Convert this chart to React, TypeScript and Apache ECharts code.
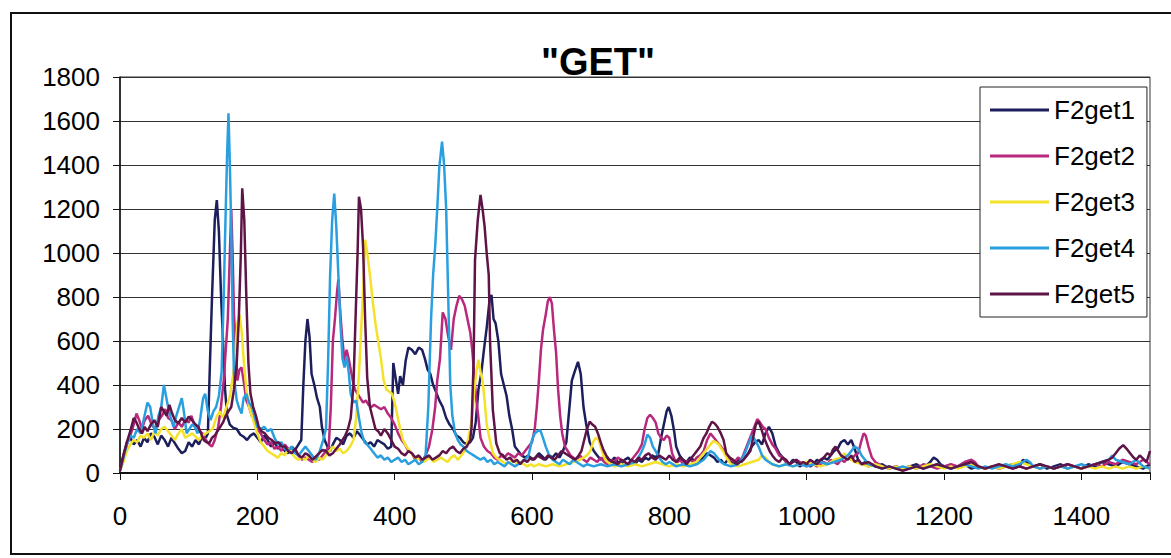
import React, { useEffect, useRef } from "react";
import * as echarts from "echarts";

const TITLE = '"GET"';
const SERIES_NAMES = ["F2get1", "F2get2", "F2get3", "F2get4", "F2get5"];
const SERIES_COLORS = ["#1c1f5c", "#b8287c", "#f4e12a", "#2a9fe0", "#5e1446"];
const X_MIN = 0;
const X_MAX = 1500;
const X_INTERVAL = 200;
const Y_MIN = 0;
const Y_MAX = 1800;
const Y_INTERVAL = 200;

const F2GET1: [number, number][] = [
  [0,20],[5,80],[10,140],[15,160],[20,130],[25,150],[30,120],[35,160],[40,140],[45,180],[50,165],[55,130],[60,170],[65,150],[70,120],[75,160],[80,135],[85,110],[90,90],[95,100],[100,140],[105,120],[110,150],[115,130],[120,170],[125,160],[128,180],[131,500],[134,800],[138,1150],[141,1240],[144,1100],[147,820],[150,600],[153,380],[156,260],[160,220],[165,205],[170,200],[175,175],[180,165],[185,150],[190,170],[195,180],[200,160],[205,140],[210,170],[215,150],[220,120],[225,140],[230,110],[235,130],[240,100],[245,90],[250,120],[255,105],[260,130],[264,150],[267,400],[270,600],[273,700],[276,620],[279,450],[283,400],[287,340],[291,300],[294,210],[298,150],[302,120],[306,100],[310,130],[315,160],[320,150],[325,130],[330,170],[335,180],[340,160],[345,190],[350,170],[355,150],[360,130],[365,140],[370,120],[375,150],[380,140],[385,130],[390,110],[395,120],[398,500],[402,420],[405,360],[408,440],[412,400],[416,510],[420,570],[425,560],[430,540],[435,570],[440,560],[444,520],[448,470],[452,450],[456,400],[460,370],[465,330],[470,300],[475,250],[480,220],[485,200],[490,170],[495,160],[500,140],[505,130],[510,140],[514,160],[518,230],[522,380],[526,450],[530,560],[534,660],[538,780],[541,810],[544,700],[547,680],[551,600],[555,450],[559,400],[563,350],[567,260],[571,200],[575,120],[580,100],[585,80],[590,70],[595,80],[600,60],[605,70],[610,90],[615,75],[620,60],[625,80],[630,70],[635,90],[640,70],[645,100],[650,140],[654,280],[658,420],[662,460],[667,505],[671,450],[675,300],[679,220],[684,140],[690,100],[695,80],[700,60],[705,70],[710,60],[715,50],[720,70],[725,50],[730,40],[735,60],[740,70],[745,50],[750,40],[755,60],[760,50],[765,70],[770,60],[775,80],[780,70],[784,90],[788,160],[792,220],[796,280],[799,300],[803,260],[807,190],[810,120],[815,80],[820,60],[825,50],[830,70],[835,60],[840,40],[845,60],[850,70],[855,90],[860,80],[865,70],[870,50],[875,60],[880,40],[885,60],[890,50],[895,40],[900,60],[905,50],[910,70],[915,90],[920,120],[925,140],[930,150],[935,130],[940,180],[945,210],[950,180],[955,120],[960,90],[965,70],[970,50],[975,40],[980,60],[985,50],[990,30],[995,40],[1000,50],[1005,30],[1010,40],[1015,60],[1020,50],[1025,70],[1030,60],[1035,80],[1040,100],[1045,110],[1050,140],[1055,150],[1060,130],[1065,150],[1070,110],[1075,60],[1080,40],[1085,50],[1090,30],[1095,40],[1100,30],[1110,40],[1120,20],[1130,30],[1140,20],[1150,30],[1160,40],[1170,20],[1180,50],[1185,70],[1190,60],[1195,40],[1200,30],[1210,20],[1220,30],[1230,40],[1240,20],[1250,30],[1260,20],[1270,30],[1280,20],[1290,30],[1300,40],[1310,30],[1315,60],[1320,50],[1330,30],[1340,40],[1350,20],[1360,30],[1370,40],[1380,20],[1390,30],[1400,20],[1410,40],[1420,30],[1430,50],[1440,40],[1450,30],[1460,50],[1470,40],[1480,30],[1490,20],[1500,40]
];

const F2GET2: [number, number][] = [
  [0,10],[5,60],[10,130],[15,170],[20,220],[24,270],[28,240],[32,200],[36,240],[41,260],[46,220],[51,200],[56,240],[61,260],[66,290],[70,250],[75,240],[80,200],[85,230],[90,210],[95,240],[100,230],[104,260],[108,220],[112,200],[116,190],[120,180],[125,150],[130,130],[134,120],[138,150],[143,210],[147,300],[151,420],[154,560],[157,700],[160,1000],[162,1200],[164,1000],[166,720],[168,600],[171,420],[174,470],[177,480],[180,420],[184,330],[188,300],[192,260],[196,240],[200,200],[205,180],[210,150],[215,130],[220,140],[225,110],[230,120],[235,100],[240,130],[245,110],[250,90],[255,100],[260,80],[265,60],[270,70],[275,60],[280,50],[285,70],[290,60],[295,80],[300,100],[304,120],[307,300],[310,600],[313,700],[316,820],[318,880],[321,720],[324,600],[327,510],[330,560],[333,520],[336,470],[339,420],[342,380],[346,360],[350,340],[354,320],[358,330],[362,310],[366,300],[370,310],[375,300],[380,290],[385,300],[390,270],[395,250],[400,220],[405,180],[410,150],[415,130],[420,100],[425,90],[430,60],[435,70],[440,50],[445,80],[450,120],[455,200],[459,300],[462,420],[466,520],[470,730],[474,700],[478,620],[482,560],[486,700],[490,760],[494,805],[498,790],[502,760],[506,700],[510,640],[513,560],[516,440],[519,330],[522,250],[525,160],[530,120],[535,100],[540,90],[545,70],[550,60],[555,80],[560,70],[565,90],[570,80],[575,70],[580,90],[585,80],[590,100],[595,120],[600,140],[604,200],[607,300],[610,420],[613,560],[616,650],[620,720],[623,780],[626,800],[629,770],[632,650],[635,550],[638,380],[641,260],[644,180],[648,120],[652,100],[656,80],[660,70],[665,60],[670,80],[675,60],[680,50],[685,70],[690,60],[695,50],[700,70],[705,50],[710,40],[715,60],[720,50],[725,70],[730,60],[735,50],[740,40],[745,60],[750,80],[755,100],[760,130],[764,200],[768,250],[772,265],[776,250],[780,230],[784,180],[788,160],[792,150],[796,170],[800,160],[804,90],[808,60],[812,50],[816,60],[820,40],[825,50],[830,60],[835,50],[840,70],[845,80],[850,100],[855,150],[860,180],[865,160],[870,140],[875,120],[880,100],[885,80],[890,60],[895,50],[900,70],[905,60],[910,100],[915,140],[920,180],[925,220],[928,245],[932,230],[936,210],[940,200],[945,160],[950,130],[955,110],[960,80],[965,70],[970,50],[975,40],[980,50],[985,60],[990,50],[995,40],[1000,30],[1005,50],[1010,40],[1015,30],[1020,40],[1025,50],[1030,40],[1035,60],[1040,50],[1045,40],[1050,60],[1055,50],[1060,70],[1065,60],[1070,80],[1075,90],[1080,150],[1083,180],[1086,170],[1090,120],[1095,70],[1100,50],[1110,30],[1120,20],[1130,30],[1140,20],[1150,30],[1160,20],[1170,40],[1180,30],[1190,20],[1200,30],[1210,40],[1220,30],[1230,50],[1240,60],[1245,50],[1250,30],[1260,20],[1270,30],[1280,20],[1290,30],[1300,20],[1310,30],[1320,20],[1330,30],[1340,20],[1350,30],[1360,20],[1370,30],[1380,40],[1390,30],[1400,20],[1410,30],[1420,40],[1430,30],[1440,50],[1450,40],[1460,60],[1470,50],[1480,40],[1490,60],[1500,40]
];

const F2GET3: [number, number][] = [
  [0,10],[5,50],[10,100],[15,130],[20,150],[25,140],[30,170],[35,160],[40,180],[45,150],[50,190],[55,170],[60,200],[65,210],[70,190],[75,170],[80,150],[85,180],[90,200],[95,160],[100,170],[105,180],[110,165],[115,150],[120,170],[125,180],[130,190],[135,200],[140,250],[145,280],[150,250],[155,300],[160,350],[165,450],[168,560],[171,680],[174,720],[177,650],[180,520],[184,380],[188,300],[192,260],[196,220],[200,180],[205,140],[210,120],[215,100],[220,90],[225,80],[230,70],[235,90],[240,80],[245,110],[250,90],[255,70],[260,60],[265,70],[270,60],[275,80],[280,60],[285,50],[290,70],[295,60],[300,80],[305,100],[310,120],[315,100],[320,110],[325,90],[330,100],[335,120],[340,150],[344,250],[348,450],[352,700],[355,900],[357,1060],[360,1000],[364,900],[368,780],[372,680],[376,600],[380,520],[384,420],[388,380],[392,370],[396,360],[400,320],[404,260],[408,200],[412,150],[417,120],[422,100],[427,80],[432,60],[437,70],[442,50],[447,60],[452,70],[457,50],[462,60],[467,70],[472,60],[477,50],[482,70],[487,80],[492,60],[497,80],[502,100],[506,140],[510,200],[513,260],[516,380],[519,460],[522,515],[525,460],[528,420],[531,330],[534,220],[538,160],[543,90],[548,70],[553,60],[558,50],[563,40],[568,50],[573,60],[578,40],[583,50],[588,40],[593,30],[598,40],[603,30],[610,40],[620,30],[630,40],[640,30],[650,40],[660,50],[670,60],[680,80],[685,100],[689,140],[693,160],[697,150],[701,110],[705,70],[710,50],[715,40],[720,30],[730,40],[740,30],[750,40],[760,30],[770,40],[780,50],[790,40],[800,30],[810,40],[820,30],[830,40],[840,50],[845,70],[850,90],[855,110],[860,130],[864,145],[868,140],[872,130],[876,110],[880,90],[885,60],[890,40],[900,30],[910,40],[920,50],[930,60],[935,80],[940,70],[945,50],[950,40],[960,30],[970,40],[980,30],[990,40],[1000,50],[1010,40],[1020,30],[1030,40],[1040,60],[1050,70],[1055,90],[1060,70],[1070,50],[1080,40],[1090,30],[1100,40],[1110,30],[1120,20],[1130,30],[1140,20],[1150,30],[1160,20],[1170,30],[1180,40],[1190,30],[1200,20],[1210,30],[1220,20],[1230,30],[1240,40],[1250,30],[1260,20],[1270,30],[1280,20],[1290,30],[1300,40],[1310,50],[1320,40],[1330,30],[1340,20],[1350,30],[1360,20],[1370,30],[1380,20],[1390,30],[1400,20],[1410,30],[1420,20],[1430,30],[1440,20],[1450,30],[1460,20],[1470,30],[1480,20],[1490,30],[1500,20]
];

const F2GET4: [number, number][] = [
  [0,10],[5,70],[10,130],[15,170],[20,160],[25,200],[30,180],[35,250],[40,320],[44,300],[48,220],[52,180],[56,260],[60,300],[64,400],[67,350],[70,300],[74,250],[78,210],[82,260],[86,300],[90,340],[93,280],[97,180],[101,200],[105,220],[109,210],[113,180],[117,250],[121,340],[124,360],[128,280],[132,240],[136,280],[140,300],[144,350],[148,460],[151,800],[154,1200],[156,1450],[158,1635],[160,1400],[162,1100],[164,700],[166,450],[168,380],[170,330],[173,300],[177,270],[180,340],[184,360],[188,320],[192,300],[196,260],[200,210],[205,200],[210,210],[215,190],[220,200],[225,160],[230,130],[235,140],[240,110],[245,100],[250,120],[255,90],[260,80],[265,100],[270,120],[275,100],[280,80],[285,60],[290,90],[295,140],[300,200],[303,500],[306,900],[309,1150],[312,1270],[315,1120],[318,900],[321,680],[324,520],[327,480],[330,530],[333,460],[336,360],[340,320],[344,330],[348,250],[352,180],[356,140],[360,130],[365,110],[370,90],[375,70],[380,80],[385,60],[390,70],[395,50],[400,60],[405,70],[410,50],[415,60],[420,40],[425,50],[430,60],[435,40],[440,50],[445,80],[449,300],[453,700],[456,900],[459,1030],[462,1200],[465,1390],[469,1506],[472,1400],[475,1200],[478,800],[481,400],[484,260],[488,180],[492,150],[496,130],[500,120],[505,100],[510,90],[515,80],[520,70],[525,60],[530,70],[535,50],[540,60],[545,40],[550,50],[555,40],[560,30],[565,50],[570,40],[575,30],[580,40],[585,50],[590,60],[595,80],[600,150],[604,180],[608,190],[612,195],[616,160],[620,120],[625,80],[630,60],[635,50],[640,40],[645,60],[650,50],[655,40],[660,60],[665,50],[670,40],[675,30],[680,40],[690,30],[700,40],[710,30],[720,40],[730,30],[740,40],[750,50],[755,70],[760,100],[764,130],[768,175],[772,160],[776,120],[780,100],[785,70],[790,50],[795,40],[800,50],[810,30],[820,40],[830,30],[840,40],[850,60],[855,80],[860,100],[865,90],[870,70],[875,50],[880,40],[890,30],[900,40],[905,60],[910,90],[915,130],[920,170],[925,150],[930,120],[935,80],[940,60],[945,50],[950,40],[960,30],[970,40],[980,30],[990,40],[1000,30],[1010,40],[1020,50],[1030,40],[1040,50],[1050,60],[1060,80],[1065,100],[1070,120],[1075,110],[1080,80],[1085,60],[1090,40],[1100,30],[1110,20],[1120,30],[1130,20],[1140,30],[1150,20],[1160,30],[1170,20],[1180,30],[1190,40],[1200,30],[1210,20],[1220,30],[1230,40],[1240,30],[1250,20],[1260,30],[1270,20],[1280,30],[1290,40],[1300,30],[1310,40],[1320,60],[1325,50],[1330,30],[1340,20],[1350,30],[1360,20],[1370,30],[1380,20],[1390,30],[1400,40],[1410,30],[1420,40],[1430,50],[1440,60],[1445,80],[1450,60],[1460,50],[1470,40],[1480,60],[1490,30],[1500,20]
];

const F2GET5: [number, number][] = [
  [0,10],[5,80],[10,140],[15,190],[20,250],[24,230],[28,200],[32,180],[36,210],[40,190],[45,220],[50,240],[55,210],[60,300],[64,280],[68,260],[72,310],[76,270],[80,240],[85,226],[90,250],[95,230],[100,256],[105,240],[110,220],[114,210],[118,180],[122,150],[126,140],[130,135],[134,160],[138,170],[142,190],[146,210],[150,230],[154,260],[158,280],[162,300],[166,380],[170,500],[173,700],[176,1000],[178,1294],[181,1150],[184,800],[187,500],[190,360],[194,300],[198,260],[202,210],[206,190],[211,180],[216,160],[221,150],[226,135],[231,140],[236,120],[240,120],[245,100],[250,90],[255,110],[260,80],[265,70],[270,90],[275,80],[280,60],[285,74],[290,90],[295,105],[300,100],[305,80],[310,90],[315,110],[320,130],[324,150],[328,170],[332,200],[336,250],[340,400],[343,700],[346,1000],[348,1256],[351,1200],[354,1029],[357,700],[360,434],[364,300],[368,250],[372,200],[376,190],[380,170],[385,200],[390,180],[395,150],[400,120],[405,110],[410,90],[415,80],[420,100],[425,90],[430,70],[435,80],[440,60],[445,70],[450,80],[455,60],[460,70],[465,80],[470,100],[475,90],[480,110],[485,120],[490,100],[495,90],[500,110],[505,120],[510,150],[512,210],[515,514],[517,968],[521,1150],[525,1264],[528,1200],[531,1120],[534,1000],[537,900],[539,589],[543,286],[548,135],[553,90],[558,80],[563,60],[568,70],[573,50],[578,60],[583,40],[588,60],[593,50],[598,70],[603,60],[608,80],[613,70],[618,60],[623,80],[628,70],[633,60],[638,80],[643,100],[648,90],[653,80],[658,70],[663,60],[668,80],[672,100],[676,150],[680,200],[684,233],[688,220],[692,210],[696,180],[700,140],[704,105],[708,80],[713,59],[718,50],[725,40],[730,60],[735,50],[740,40],[745,60],[750,50],[755,70],[760,60],[765,80],[770,90],[775,70],[780,60],[785,80],[790,70],[795,60],[800,80],[805,60],[810,50],[815,70],[820,60],[825,40],[830,60],[835,80],[840,100],[845,120],[850,160],[854,180],[858,210],[862,233],[866,225],[870,210],[875,180],[879,150],[883,89],[888,70],[893,60],[898,40],[903,50],[908,60],[913,80],[918,100],[922,160],[926,220],[930,235],[934,200],[938,160],[942,130],[946,100],[950,80],[955,60],[960,50],[965,70],[970,60],[975,40],[980,50],[985,60],[990,40],[995,50],[1000,40],[1005,60],[1010,50],[1015,40],[1020,60],[1025,70],[1030,90],[1035,80],[1038,105],[1042,120],[1046,100],[1050,80],[1055,70],[1060,60],[1065,80],[1070,50],[1075,60],[1080,40],[1090,50],[1100,30],[1110,20],[1120,30],[1130,20],[1140,10],[1150,20],[1160,30],[1170,20],[1180,30],[1190,40],[1200,30],[1210,20],[1220,30],[1230,40],[1240,50],[1245,40],[1250,30],[1260,20],[1270,30],[1280,40],[1290,30],[1300,20],[1310,30],[1320,20],[1330,30],[1340,40],[1350,30],[1360,20],[1370,30],[1380,40],[1390,30],[1400,20],[1410,30],[1420,40],[1430,50],[1440,60],[1445,70],[1450,90],[1455,110],[1461,127],[1466,110],[1471,90],[1476,70],[1480,60],[1485,80],[1490,65],[1495,50],[1500,100]
];

const SERIES_DATA = [F2GET1, F2GET2, F2GET3, F2GET4, F2GET5];

const FONT = "'Liberation Sans', Arial, sans-serif";

export default function App() {
  const ref = useRef<HTMLDivElement>(null);

  useEffect(() => {
    if (!ref.current) return;
    const chart = echarts.init(ref.current, null, { renderer: "svg" });
    chart.setOption({
      animation: false,
      backgroundColor: "#ffffff",
      textStyle: { fontFamily: FONT },
      graphic: [
        {
          type: "rect",
          shape: { x: 11, y: 13, width: 1170, height: 541 },
          style: { fill: "none", stroke: "#111", lineWidth: 2 },
          silent: true,
          z: -1,
        },
        {
          type: "text",
          x: 598,
          y: 62,
          style: {
            text: TITLE,
            font: `bold 38px ${FONT}`,
            fill: "#000",
            textAlign: "center",
            textVerticalAlign: "middle",
          },
        },
      ],
      legend: {
        orient: "vertical",
        left: 980,
        top: 87,
        padding: [10, 12, 10, 10],
        itemWidth: 59,
        itemHeight: 3,
        itemGap: 20,
        icon: "rect",
        backgroundColor: "#ffffff",
        borderColor: "#222",
        borderWidth: 1,
        borderRadius: 0,
        textStyle: { fontSize: 26, color: "#000", fontFamily: FONT },
        data: SERIES_NAMES,
      },
      grid: {
        left: 120,
        right: 21,
        top: 77,
        bottom: 85,
        show: true,
        borderColor: "#333",
        borderWidth: 1,
        containLabel: false,
      },
      xAxis: {
        type: "value",
        min: X_MIN,
        max: X_MAX,
        interval: X_INTERVAL,
        axisLine: { show: true, onZero: false, lineStyle: { color: "#111", width: 2 } },
        axisTick: { show: true, inside: false, length: 7, lineStyle: { color: "#111" } },
        axisLabel: {
          fontSize: 26,
          color: "#000",
          fontFamily: FONT,
          margin: 30,
          formatter: (v: number) => (v % X_INTERVAL === 0 ? String(v) : ""),
        },
        splitLine: { show: false },
      },
      yAxis: {
        type: "value",
        min: Y_MIN,
        max: Y_MAX,
        interval: Y_INTERVAL,
        axisLine: { show: true, lineStyle: { color: "#111", width: 1.5 } },
        axisTick: { show: true, inside: false, length: 7, lineStyle: { color: "#111" } },
        axisLabel: {
          fontSize: 26,
          color: "#000",
          fontFamily: FONT,
          margin: 20,
          formatter: (v: number) => String(v),
        },
        splitLine: { show: true, lineStyle: { color: "#333", width: 1.2 } },
      },
      series: SERIES_NAMES.map((name, i) => ({
        name,
        type: "line",
        data: SERIES_DATA[i],
        showSymbol: false,
        symbol: "none",
        color: SERIES_COLORS[i],
        lineStyle: { width: 2.5, color: SERIES_COLORS[i] },
        emphasis: { disabled: true },
      })),
    });
    return () => chart.dispose();
  }, []);

  return (
    <div
      ref={ref}
      style={{ position: "fixed", left: 0, top: 0, width: 1171, height: 558, background: "#fff" }}
    />
  );
}
